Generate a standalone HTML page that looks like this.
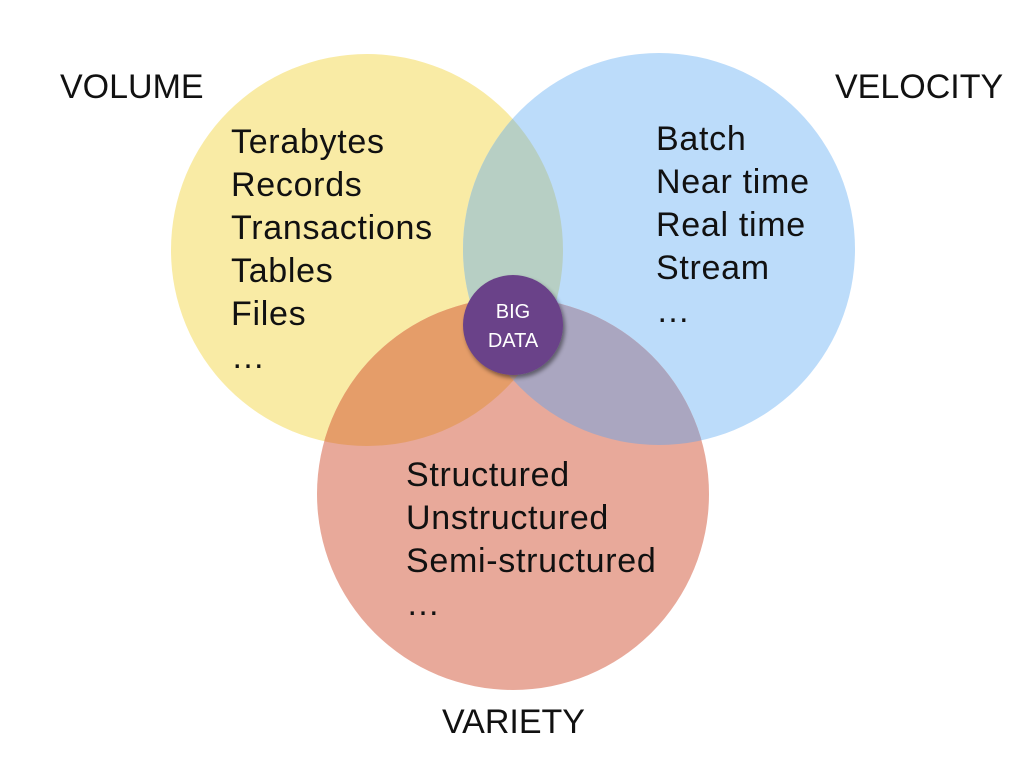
<!DOCTYPE html>
<html><head><style>body{margin:0;background:#fff}svg{display:block}text{font-family:"Liberation Sans",sans-serif;fill:#111}</style></head>
<body>
<svg width="1024" height="768" viewBox="0 0 1024 768">
<defs>
<clipPath id="cy"><circle cx="367" cy="250" r="196"/></clipPath>
<clipPath id="cb"><circle cx="659" cy="249" r="196"/></clipPath>
<filter id="sh" x="-30%" y="-30%" width="160%" height="160%"><feDropShadow dx="2" dy="3" stdDeviation="2" flood-color="#000" flood-opacity="0.45"/></filter>
</defs>
<circle cx="367" cy="250" r="196" fill="#f9eba5"/>
<circle cx="659" cy="249" r="196" fill="#bcdcfa"/>
<circle cx="513" cy="494" r="196" fill="#e8a99a"/>
<g clip-path="url(#cy)"><circle cx="659" cy="249" r="196" fill="#b7cfc4"/></g>
<g clip-path="url(#cy)"><circle cx="513" cy="494" r="196" fill="#e59d69"/></g>
<g clip-path="url(#cb)"><circle cx="513" cy="494" r="196" fill="#aaa6c0"/></g>
<g clip-path="url(#cy)"><g clip-path="url(#cb)"><circle cx="513" cy="494" r="196" fill="#c6a29a"/></g></g>
<circle cx="513" cy="325" r="50" fill="#6b4289" filter="url(#sh)"/>
<text x="513" y="318" font-size="20" text-anchor="middle" style="fill:#fff">BIG</text>
<text x="513" y="347" font-size="20" text-anchor="middle" style="fill:#fff">DATA</text>
<g font-size="34">
<text x="60" y="98">VOLUME</text>
<text x="835" y="98">VELOCITY</text>
<text x="442" y="733">VARIETY</text>
</g>
<g font-size="34" letter-spacing="0.7">
<text x="231" y="153">Terabytes</text>
<text x="231" y="196">Records</text>
<text x="231" y="239">Transactions</text>
<text x="231" y="282">Tables</text>
<text x="231" y="325">Files</text>
<text x="231" y="368">…</text>
<text x="656" y="150">Batch</text>
<text x="656" y="193">Near time</text>
<text x="656" y="236">Real time</text>
<text x="656" y="279">Stream</text>
<text x="656" y="322">…</text>
<text x="406" y="486">Structured</text>
<text x="406" y="529">Unstructured</text>
<text x="406" y="572">Semi-structured</text>
<text x="406" y="615">…</text>
</g>
</svg>
</body></html>
